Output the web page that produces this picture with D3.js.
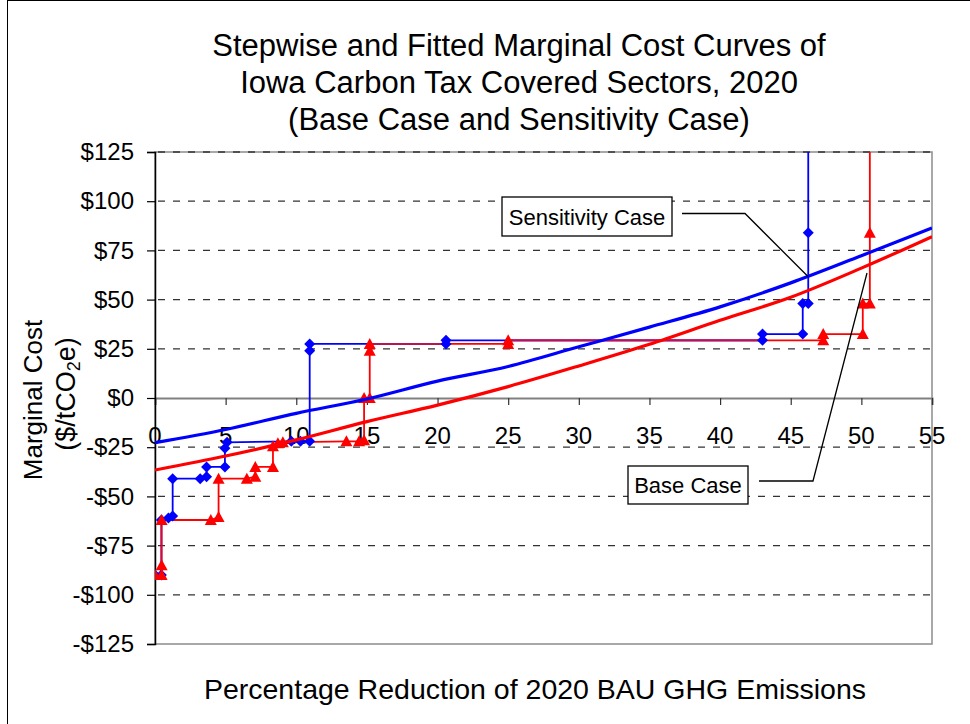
<!DOCTYPE html>
<html>
<head>
<meta charset="utf-8">
<script src="https://cdn.jsdelivr.net/npm/d3@7"></script>
<style>
html,body{margin:0;padding:0;background:#fff;}
svg{display:block;font-family:"Liberation Sans",Arial,Helvetica,sans-serif;}
</style>
</head>
<body>
<svg id="chart" width="970" height="724"></svg>
<script>
// ---- data ----
const titleLines = ["Stepwise and Fitted Marginal Cost Curves of","Iowa Carbon Tax Covered Sectors, 2020","(Base Case and Sensitivity Case)"];
const xTicks = [0,5,10,15,20,25,30,35,40,45,50,55];
const yTicks = [-125,-100,-75,-50,-25,0,25,50,75,100,125];
const yTickLabels = ["-$125","-$100","-$75","-$50","-$25","$0","$25","$50","$75","$100","$125"];

// Stepwise curves (x = % reduction, y = $/tCO2e)
const sensStepX = [0,0.45,0.45,0.95,1.25,1.25,3.2,3.65,3.65,4.95,4.95,5.1,9.65,10.3,10.95,10.95,10.95,20.6,20.6,43.0,43.0,45.85,45.85,46.24,46.24,46.24];
const sensStepY = [-90,-90,-62,-61,-60,-41,-41,-40,-35,-35,-25.5,-22.5,-22,-22,-22,24,27.5,27.5,29.3,29.3,32.5,32.5,48,48,84,300];
const baseStepX = [0,0.47,0.47,0.47,3.95,4.5,4.5,6.5,7.1,7.1,8.35,8.35,8.7,9.05,13.55,14.45,14.8,14.8,15.2,15.2,15.2,25.0,25.0,47.3,47.3,50.1,50.1,50.6,50.6,50.6];
const baseStepY = [-90,-90,-85,-62,-62,-60.5,-41,-41,-40,-35,-35,-24.5,-23,-22.5,-22,-22,-21.5,0,0,24,27.5,27.5,29.3,29.3,32.5,32.5,48,48,84,300];

// Fitted curves
const fitX = [0,5,10,15,20,25,30,35,40,45,50,55];
const sensFitY = [-22.7,-16,-7.8,-0.5,8.6,16,26,36,46.3,58.5,72.3,86.4];
const baseFitY = [-36.6,-29.5,-21.3,-12,-3.6,5.8,16.3,27.3,39.5,51.2,66,82];

// Annotations
const labels = ["Sensitivity Case","Base Case"];

// ---- layout ----
const svg = d3.select("#chart");
const L = 155, R = 932, T = 152, B = 644;
const x = d3.scaleLinear().domain([0,55]).range([L,R]);
const y = d3.scaleLinear().domain([-125,125]).range([B,T]);

// outer frame
svg.append("line").attr("x1",7.5).attr("x2",7.5).attr("y1",0).attr("y2",724).attr("stroke","#000").attr("stroke-width",1);
svg.append("line").attr("x1",7).attr("x2",970).attr("y1",0.5).attr("y2",0.5).attr("stroke","#000").attr("stroke-width",1);

// title
const title = svg.append("text").attr("text-anchor","middle").attr("font-size",31).attr("fill","#000");
titleLines.forEach((t,i)=>{
  title.append("tspan").attr("x",519).attr("y",56+i*37).text(t);
});

// plot border (gray)
svg.append("rect").attr("x",L).attr("y",T).attr("width",R-L).attr("height",B-T)
  .attr("fill","none").attr("stroke","#8c8c8c").attr("stroke-width",1.5);

// gridlines
const g = svg.append("g");
g.selectAll("line.grid").data(yTicks.filter(d=>d!==0 && d!==-125)).enter().append("line")
  .attr("x1",L).attr("x2",R).attr("y1",d=>y(d)).attr("y2",d=>y(d))
  .attr("stroke","#333").attr("stroke-width",1.3).attr("stroke-dasharray","7,8").attr("stroke-dashoffset",-3);

// x axis at y=0
const xAxis = d3.axisBottom(x).tickValues(xTicks).tickSize(7).tickFormat("");
const xg = svg.append("g").attr("transform",`translate(0,${y(0)})`).call(xAxis);
xg.select(".domain").attr("stroke","#808080").attr("stroke-width",2);
xg.selectAll(".tick line").attr("stroke","#333").attr("stroke-width",1.2);
svg.append("g").selectAll("text").data(xTicks).enter().append("text")
  .attr("x",d=>x(d)).attr("y",y(0)+46).attr("text-anchor","middle")
  .attr("font-size",24).attr("fill","#000").text(d=>d);

// y axis
const yAxis = d3.axisLeft(y).tickValues(yTicks).tickSize(8).tickFormat((d,i)=>yTickLabels[i]);
const yg = svg.append("g").attr("transform",`translate(${L},0)`).call(yAxis);
yg.select(".domain").attr("stroke","#000").attr("stroke-width",1.5);
yg.selectAll(".tick line").attr("stroke","#000").attr("stroke-width",1.2);
yg.selectAll(".tick text").attr("font-size",24).attr("fill","#000").attr("x",-21)
  .attr("font-family","Liberation Sans, Arial, sans-serif");

// axis titles
svg.append("text").attr("transform","translate(42,400) rotate(-90)").attr("text-anchor","middle")
  .attr("font-size",26).text("Marginal Cost");
const yt2 = svg.append("text").attr("transform","translate(75,394) rotate(-90)").attr("text-anchor","middle")
  .attr("font-size",27);
yt2.append("tspan").text("($/tCO");
yt2.append("tspan").attr("font-size",18).attr("dy",5).text("2");
yt2.append("tspan").attr("dy",-5).text("e)");
svg.append("text").attr("x",535).attr("y",699).attr("text-anchor","middle")
  .attr("font-size",28.5).text("Percentage Reduction of 2020 BAU GHG Emissions");

// clip
svg.append("defs").append("clipPath").attr("id","clip").append("rect")
  .attr("x",L).attr("y",T).attr("width",R-L).attr("height",B-T);
const plot = svg.append("g").attr("clip-path","url(#clip)");

const lineGen = d3.line().x(d=>x(d[0])).y(d=>y(d[1]));
const sensPts = sensStepX.map((v,i)=>[v,sensStepY[i]]);
const basePts = baseStepX.map((v,i)=>[v,baseStepY[i]]);

plot.append("path").datum(sensPts).attr("d",lineGen).attr("fill","none").attr("stroke","#0000ff").attr("stroke-width",1.8);
plot.append("path").datum(basePts).attr("d",lineGen).attr("fill","none").attr("stroke","#ff0000").attr("stroke-width",1.8);

// overlapping horizontal runs of the two step curves render purple
function hSegs(pts){
  const s=[];
  for(let i=1;i<pts.length;i++){
    if(pts[i][1]===pts[i-1][1] && pts[i][0]>pts[i-1][0]) s.push([pts[i-1][0],pts[i][0],pts[i][1]]);
  }
  return s;
}
const overlaps=[];
hSegs(sensPts).forEach(a=>hSegs(basePts).forEach(b=>{
  if(Math.abs(a[2]-b[2])<0.6){
    const x0=Math.max(a[0],b[0]), x1=Math.min(a[1],b[1]);
    if(x1>x0) overlaps.push([[x0,a[2]],[x1,a[2]]]);
  }
}));
plot.append("g").selectAll("path").data(overlaps).enter().append("path")
  .attr("d",lineGen).attr("fill","none").attr("stroke","#b4145a").attr("stroke-width",1.9);

// markers
const diamond = "M0,-5.5L5.5,0L0,5.5L-5.5,0Z";
const tri = "M0,-6L6,5L-6,5Z";
plot.append("g").selectAll("path").data(sensPts).enter().append("path")
  .attr("d",diamond).attr("transform",d=>`translate(${x(d[0])},${y(d[1])})`).attr("fill","#0000ff");
plot.append("g").selectAll("path").data(basePts).enter().append("path")
  .attr("d",tri).attr("transform",d=>`translate(${x(d[0])},${y(d[1])})`).attr("fill","#ff0000");

// fitted curves
const fitGen = d3.line().x(d=>x(d[0])).y(d=>y(d[1])).curve(d3.curveMonotoneX);
plot.append("path").datum(fitX.map((v,i)=>[v,baseFitY[i]])).attr("d",fitGen)
  .attr("fill","none").attr("stroke","#ff0000").attr("stroke-width",3.2);
plot.append("path").datum(fitX.map((v,i)=>[v,sensFitY[i]])).attr("d",fitGen)
  .attr("fill","none").attr("stroke","#0000ff").attr("stroke-width",3.2);

// annotations
function callout(text, bx, by, bw, bh, pts){
  svg.append("path").attr("d",d3.line()(pts)).attr("fill","none").attr("stroke","#000").attr("stroke-width",1.3);
  svg.append("rect").attr("x",bx).attr("y",by).attr("width",bw).attr("height",bh)
    .attr("fill","#fff").attr("stroke","#000").attr("stroke-width",1.3);
  svg.append("text").attr("x",bx+bw/2).attr("y",by+bh/2+8).attr("text-anchor","middle")
    .attr("font-size",22).text(text);
}
callout(labels[0], 502, 197, 170, 39, [[682,213.5],[745,213.5],[x(46.24),y(61.6)]]);
callout(labels[1], 628, 466, 120, 38, [[759,481],[813,481],[867,273]]);
</script>
</body>
</html>
